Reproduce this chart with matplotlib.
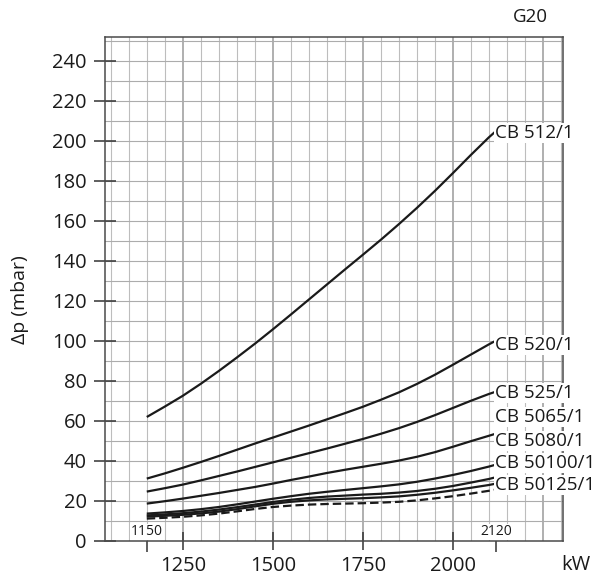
import matplotlib
matplotlib.use("Agg")
import matplotlib.pyplot as plt
import numpy as np

plt.rcParams['font.family'] = ['Open Sans', 'DejaVu Sans']

# ---- data ----
kw = [1150, 1200, 1250, 1300, 1350, 1400, 1450, 1500, 1550, 1600, 1650,
      1700, 1750, 1800, 1850, 1900, 1950, 2000, 2050, 2100, 2120]

cb512 = [62.0, 67.2, 72.6, 78.6, 85.0, 91.7, 98.6, 105.8, 113.2, 120.7, 128.2,
         135.7, 143.1, 150.6, 158.4, 166.5, 175.0, 183.9, 193.0, 201.8, 205.0]
cb520 = [31.2, 33.8, 36.6, 39.5, 42.5, 45.6, 48.7, 51.7, 54.7, 57.7, 60.8,
         63.9, 67.1, 70.6, 74.3, 78.5, 83.1, 88.1, 93.2, 98.3, 100.2]
cb525 = [24.7, 26.4, 28.2, 30.3, 32.5, 34.7, 37.0, 39.3, 41.6, 43.9, 46.2,
         48.6, 51.0, 53.6, 56.4, 59.5, 62.9, 66.5, 70.1, 73.5, 74.7]
cb5065 = [18.7, 19.9, 21.2, 22.6, 24.0, 25.5, 27.0, 28.7, 30.5, 32.2, 34.0,
          35.6, 37.1, 38.6, 40.2, 42.1, 44.4, 47.1, 49.9, 52.6, 53.7]
cb5080 = [13.7, 14.3, 15.0, 15.9, 17.0, 18.3, 19.7, 21.1, 22.4, 23.6, 24.6,
          25.5, 26.4, 27.3, 28.3, 29.6, 31.2, 33.0, 35.0, 37.2, 38.2]
cb50100 = [12.8, 13.3, 13.9, 14.7, 15.7, 16.9, 18.2, 19.5, 20.6, 21.5, 22.2,
           22.7, 23.2, 23.6, 24.2, 25.0, 26.1, 27.5, 29.2, 31.0, 31.9]
cb50125 = [12.2, 12.6, 13.1, 13.8, 14.7, 15.9, 17.3, 18.6, 19.6, 20.3, 20.8,
           21.1, 21.4, 21.8, 22.3, 23.1, 24.1, 25.3, 26.6, 28.0, 28.7]
dashed = [11.2, 11.6, 12.1, 12.8, 13.7, 14.8, 16.0, 17.0, 17.7, 18.2, 18.5,
          18.7, 18.9, 19.2, 19.6, 20.3, 21.3, 22.4, 23.7, 25.1, 25.7]

solid_series = [cb512, cb520, cb525, cb5065, cb5080, cb50100, cb50125]

label_names = ["CB 512/1", "CB 520/1", "CB 525/1", "CB 5065/1",
               "CB 5080/1", "CB 50100/1", "CB 50125/1"]
label_y = [204, 98, 74, 62, 50, 39, 28]

yticks = list(range(0, 241, 20))
xticks_major = [1250, 1500, 1750, 2000]
xticks_minor = [1150, 2120]

# ---- figure ----
fig = plt.figure(figsize=(6.02, 5.78), dpi=100)
ax = fig.add_axes([105/602, 1-541/578, (563-105)/602, (541-37)/578])
ax.set_xlim(1034, 2306)
ax.set_ylim(0, 252)

# grid
for gx in np.arange(1050, 2301, 50):
    major = (gx % 250 == 0)
    ax.axvline(gx, color='#9a9a9a' if major else '#bdbdbd',
               lw=1.1 if major else 0.8, zorder=0)
for gy in np.arange(10, 251, 10):
    ax.axhline(gy, color='#acacac', lw=0.8, zorder=0)

for s in solid_series:
    ax.plot(kw, s, color='#1a1a1a', lw=1.6, zorder=3,
            solid_capstyle='butt', solid_joinstyle='round')
ax.plot(kw, dashed, color='#1a1a1a', lw=1.6, ls=(0, (3.8, 1.8)), zorder=3)

for name, ly in zip(label_names, label_y):
    ax.text(2116, ly, name, ha='left', va='center', fontsize=13.5,
            color='#1a1a1a', zorder=5, clip_on=False,
            bbox=dict(facecolor='white', edgecolor='none', pad=0.5))

for xm in xticks_minor:
    ax.text(xm, 4.6, str(xm), ha='center', va='center', fontsize=10,
            color='#1a1a1a', zorder=4,
            bbox=dict(facecolor='white', edgecolor='none', pad=0.3))

for sp in ax.spines.values():
    sp.set_color('#4a4a4a')
    sp.set_linewidth(1.1)

ax.set_yticks(yticks)
ax.set_xticks(xticks_major)
ax.set_xticks(xticks_minor, minor=True)
ax.tick_params(axis='y', direction='inout', length=16.5, width=1.1,
               color='#333333', pad=5, labelsize=14.5, labelcolor='#1a1a1a')
ax.tick_params(axis='x', which='major', direction='inout', length=13, width=1.1,
               color='#333333', pad=4.5, labelsize=14.5, labelcolor='#1a1a1a')
ax.tick_params(axis='x', which='minor', direction='out', length=8, width=1.1,
               color='#333333', labelbottom=False)

fig.text(20/602, 1-300/578, "Δp (mbar)", rotation=90, ha='center', va='center',
         fontsize=14, color='#1a1a1a')
fig.text(576/602, 1-565/578, "kW", ha='center', va='center',
         fontsize=14.5, color='#1a1a1a')
fig.text(530/602, 1-17/578, "G20", ha='center', va='center',
         fontsize=13.5, color='#1a1a1a')

fig.savefig("out.png", dpi=100)
